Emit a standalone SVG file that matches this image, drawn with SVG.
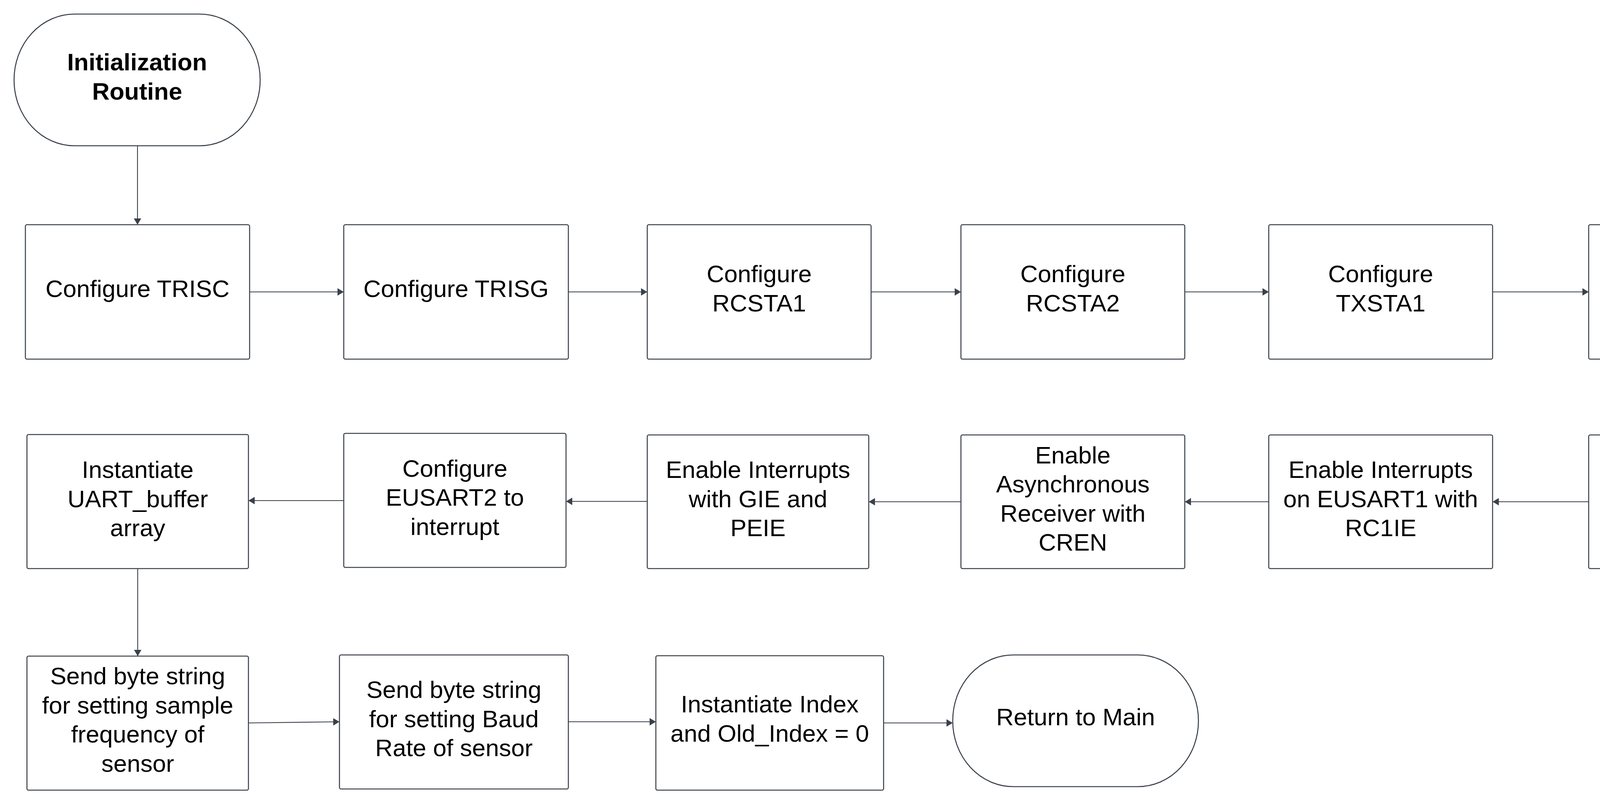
<svg xmlns="http://www.w3.org/2000/svg" width="4679" height="2060" viewBox="0 0 4679 2060">
<style>
.box{fill:#ffffff;stroke:#3a414a;stroke-width:2.6}
.t{font-family:"Liberation Sans",Arial,sans-serif;font-size:62px;fill:#000000;text-anchor:middle}
.b{font-weight:bold}
.c{fill:none;stroke:#3a414a;stroke-width:2.2;marker-end:url(#ah)}
</style>
<defs>
<marker id="ah" markerUnits="userSpaceOnUse" markerWidth="20" markerHeight="20" refX="16" refY="10" orient="auto">
<path d="M0,0.5 L16,10 L0,19.5 z" fill="#3a414a"/>
</marker>
</defs>
<rect width="4679" height="2060" fill="#ffffff"/>
<g id="connectors">
<path class="c" d="M352,373 V575"/>
<path class="c" d="M639,747 H880"/>
<path class="c" d="M1455,747 H1657"/>
<path class="c" d="M2230,747 H2460"/>
<path class="c" d="M3033,747 H3248"/>
<path class="c" d="M3821,747 H4067"/>
<path class="c" d="M4353.5,919 V1113"/>
<path class="c" d="M4067,1284 H3821"/>
<path class="c" d="M3248,1284 H3033"/>
<path class="c" d="M2460,1284 H2224"/>
<path class="c" d="M1657,1283 H1449"/>
<path class="c" d="M880,1281 H636"/>
<path class="c" d="M352.5,1455 V1679"/>
<path class="c" d="M636,1850 L869,1847"/>
<path class="c" d="M1455,1847 H1679"/>
<path class="c" d="M2262,1850 H2439"/>
</g>
<g id="n-init">
<rect class="box" x="36" y="36" width="630" height="337" rx="155" ry="168"/>
<text class="t b" x="351" y="180">Initialization</text>
<text class="t b" x="351" y="254.5">Routine</text>
</g>
<g id="n-trisc">
<rect class="box" x="65" y="575" width="574" height="344" rx="4"/>
<text class="t" x="352" y="760">Configure TRISC</text>
</g>
<g id="n-trisg">
<rect class="box" x="880" y="575" width="575" height="344" rx="4"/>
<text class="t" x="1167.5" y="760">Configure TRISG</text>
</g>
<g id="n-rcsta1">
<rect class="box" x="1657" y="575" width="573" height="344" rx="4"/>
<text class="t" x="1943.5" y="722">Configure</text>
<text class="t" x="1943.5" y="796.5">RCSTA1</text>
</g>
<g id="n-rcsta2">
<rect class="box" x="2460" y="575" width="573" height="344" rx="4"/>
<text class="t" x="2746.5" y="722">Configure</text>
<text class="t" x="2746.5" y="796.5">RCSTA2</text>
</g>
<g id="n-txsta1">
<rect class="box" x="3248" y="575" width="573" height="344" rx="4"/>
<text class="t" x="3534.5" y="722">Configure</text>
<text class="t" x="3534.5" y="796.5">TXSTA1</text>
</g>
<g id="n-txsta2">
<rect class="box" x="4067" y="575" width="573" height="344" rx="4"/>
<text class="t" x="4353.5" y="722">Configure</text>
<text class="t" x="4353.5" y="796.5">TXSTA2</text>
</g>
<g id="n-baud">
<rect class="box" x="4067" y="1113" width="573" height="342" rx="4"/>
<text class="t" x="4353.5" y="1260">Set Baud Rate</text>
<text class="t" x="4353.5" y="1334.5">with SPBRG</text>
</g>
<g id="n-eusart1">
<rect class="box" x="3248" y="1113" width="573" height="342" rx="4"/>
<text class="t" x="3534.5" y="1223">Enable Interrupts</text>
<text class="t" x="3534.5" y="1297.5">on EUSART1 with</text>
<text class="t" x="3534.5" y="1372">RC1IE</text>
</g>
<g id="n-async">
<rect class="box" x="2460" y="1113" width="573" height="342" rx="4"/>
<text class="t" x="2746.5" y="1185.5">Enable</text>
<text class="t" x="2746.5" y="1260">Asynchronous</text>
<text class="t" x="2746.5" y="1334.5">Receiver with</text>
<text class="t" x="2746.5" y="1409">CREN</text>
</g>
<g id="n-gie">
<rect class="box" x="1657" y="1113" width="567" height="342" rx="4"/>
<text class="t" x="1940.5" y="1223">Enable Interrupts</text>
<text class="t" x="1940.5" y="1297.5">with GIE and</text>
<text class="t" x="1940.5" y="1372">PEIE</text>
</g>
<g id="n-eusart2">
<rect class="box" x="880" y="1109" width="569" height="343" rx="4"/>
<text class="t" x="1164.5" y="1219.5">Configure</text>
<text class="t" x="1164.5" y="1294">EUSART2 to</text>
<text class="t" x="1164.5" y="1368.5">interrupt</text>
</g>
<g id="n-buffer">
<rect class="box" x="69" y="1112" width="567" height="343" rx="4"/>
<text class="t" x="352.5" y="1223">Instantiate</text>
<text class="t" x="352.5" y="1297.5">UART_buffer</text>
<text class="t" x="352.5" y="1372">array</text>
</g>
<g id="n-sample">
<rect class="box" x="69" y="1679" width="567" height="343" rx="4"/>
<text class="t" x="352.5" y="1751">Send byte string</text>
<text class="t" x="352.5" y="1825.5">for setting sample</text>
<text class="t" x="352.5" y="1900">frequency of</text>
<text class="t" x="352.5" y="1974.5">sensor</text>
</g>
<g id="n-sendbaud">
<rect class="box" x="869" y="1676" width="586" height="343" rx="4"/>
<text class="t" x="1162" y="1786">Send byte string</text>
<text class="t" x="1162" y="1860.5">for setting Baud</text>
<text class="t" x="1162" y="1935">Rate of sensor</text>
</g>
<g id="n-index">
<rect class="box" x="1679" y="1678" width="583" height="344" rx="4"/>
<text class="t" x="1970.5" y="1823">Instantiate Index</text>
<text class="t" x="1970.5" y="1897.5">and Old_Index = 0</text>
</g>
<g id="n-return">
<rect class="box" x="2439" y="1676" width="629" height="337" rx="155" ry="168"/>
<text class="t" x="2753.5" y="1856">Return to Main</text>
</g>
</svg>
